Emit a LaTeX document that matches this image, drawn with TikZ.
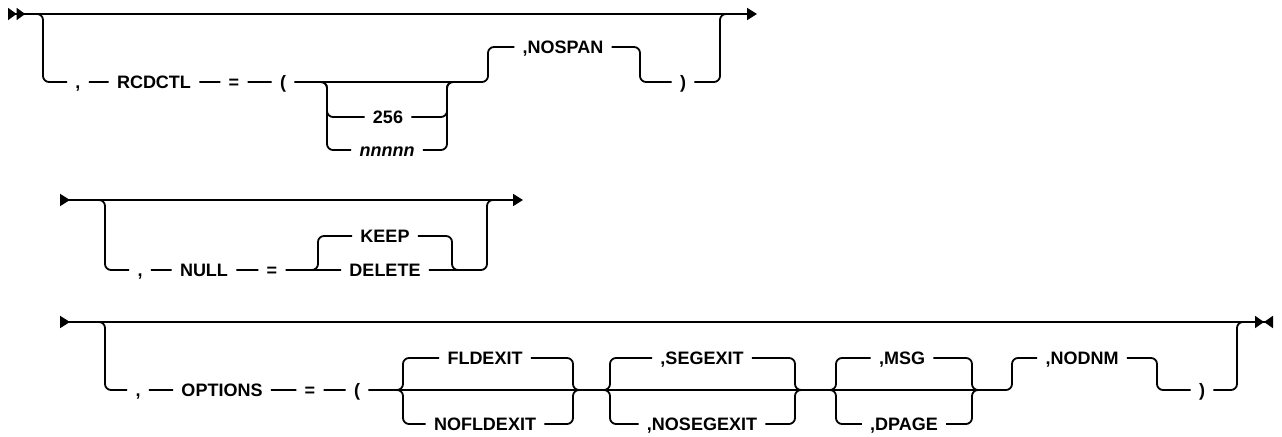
\documentclass[tikz,border=0pt]{standalone}
\usepackage{fontspec}
\setmainfont{Liberation Sans}
\usepackage{tikz}
\usetikzlibrary{arrows.meta}

\begin{document}
\begin{tikzpicture}[x=0.5pt,y=-0.5pt]
  \tikzstyle{rail}=[line width=0.9pt,rounded corners=3pt]
  \tikzstyle{kw}=[font=\bfseries\fontsize{9}{11}\selectfont,inner xsep=4pt,inner ysep=0pt,text height=6.4pt,text depth=0pt]
  \tikzstyle{var}=[kw,font=\bfseries\itshape\fontsize{9}{11}\selectfont]
  \useasboundingbox (0,0) rectangle (1282,437);

  % RCDCTL
  \coordinate (s1) at (8,14);
  \coordinate (e1) at (757,14);
  \coordinate (r1in) at (33,14);
  \coordinate (r1out) at (730,14);
  \node[kw] (c1) at (78,82) {,};
  \node[kw] (rcd) at (154,82) {RCDCTL};
  \node[kw] (eq1) at (234,82) {=};
  \node[kw] (lp1) at (283,82) {(};
  \node[kw] (n256) at (388,117) {256};
  \node[var] (nnn) at (387,150) {nnnnn};
  \node[kw] (nospan) at (563,47) {,NOSPAN};
  \node[kw] (rp1) at (683,82) {)};
  \coordinate (g1a) at (320,82);
  \coordinate (g1b) at (454,82);
  \draw[rail,{Triangle[length=4.3pt,width=6pt,reversed]Triangle[length=4.3pt,width=6pt,reversed]}-{Triangle[length=5pt,width=6pt]}] (s1) -- (e1);
  \draw[rail] (r1in) -| (43,82) -- (c1) -- (rcd) -- (eq1) -- (lp1) -| (488,47) -- (nospan) -- (640,47) |- (rp1) -- (720,82) |- (r1out);
  \draw[rail] (g1a) -| (327,117) -- (n256) -- (447,117) |- (g1b);
  \draw[rail] (g1a) -| (327,150) -- (nnn) -- (447,150) |- (g1b);

  % NULL
  \coordinate (s2) at (60,200);
  \coordinate (e2) at (523,200);
  \coordinate (r2in) at (95,200);
  \coordinate (r2out) at (497,200);
  \node[kw] (c2) at (140,270) {,};
  \node[kw] (null) at (204,270) {NULL};
  \node[kw] (eq2) at (272,270) {=};
  \node[kw] (keep) at (385,236) {KEEP};
  \node[kw] (del) at (385,270) {DELETE};
  \coordinate (g2a) at (311,270);
  \coordinate (g2b) at (459,270);
  \draw[rail,{Triangle[length=5pt,width=6pt,reversed]}-{Triangle[length=5pt,width=6pt]}] (s2) -- (e2);
  \draw[rail] (r2in) -| (105,270) -- (c2) -- (null) -- (eq2) -- (del) -- (487,270) |- (r2out);
  \draw[rail] (g2a) -| (318,236) -- (keep) -- (452,236) |- (g2b);

  % OPTIONS
  \coordinate (s3) at (60,322);
  \coordinate (e3) at (1273,322);
  \coordinate (r3in) at (95,322);
  \coordinate (r3out) at (1247,322);
  \node[kw] (c3) at (138,390) {,};
  \node[kw] (opt) at (222,390) {OPTIONS};
  \node[kw] (eq3) at (310,390) {=};
  \node[kw] (lp3) at (357,390) {(};
  \node[kw] (fld) at (485,358) {FLDEXIT};
  \node[kw] (nofld) at (485,424) {NOFLDEXIT};
  \node[kw] (seg) at (702,358) {,SEGEXIT};
  \node[kw] (noseg) at (702,424) {,NOSEGEXIT};
  \node[kw] (msg) at (902,358) {,MSG};
  \node[kw] (dpage) at (904,424) {,DPAGE};
  \node[kw] (nodnm) at (1082,358) {,NODNM};
  \node[kw] (rp3) at (1202,390) {)};
  \coordinate (g3a) at (396,390);
  \coordinate (g3b) at (580,390);
  \coordinate (g3c) at (603,390);
  \coordinate (g3d) at (802,390);
  \coordinate (g3e) at (829,390);
  \coordinate (g3f) at (979,390);
  \draw[rail,{Triangle[length=5pt,width=6pt,reversed]}-{Triangle[length=4.5pt,width=6pt]Triangle[length=4.5pt,width=6pt,reversed]}] (s3) -- (e3);
  \draw[rail] (r3in) -| (105,390) -- (c3) -- (opt) -- (eq3) -- (lp3) -| (1012,358) -- (nodnm) -- (1157,358) |- (rp3) -- (1237,390) |- (r3out);
  \draw[rail] (g3a) -| (403,358) -- (fld) -- (573,358) |- (g3b);
  \draw[rail] (g3a) -| (403,424) -- (nofld) -- (573,424) |- (g3b);
  \draw[rail] (g3c) -| (610,358) -- (seg) -- (795,358) |- (g3d);
  \draw[rail] (g3c) -| (610,424) -- (noseg) -- (795,424) |- (g3d);
  \draw[rail] (g3e) -| (836,358) -- (msg) -- (972,358) |- (g3f);
  \draw[rail] (g3e) -| (836,424) -- (dpage) -- (972,424) |- (g3f);
\end{tikzpicture}
\end{document}
